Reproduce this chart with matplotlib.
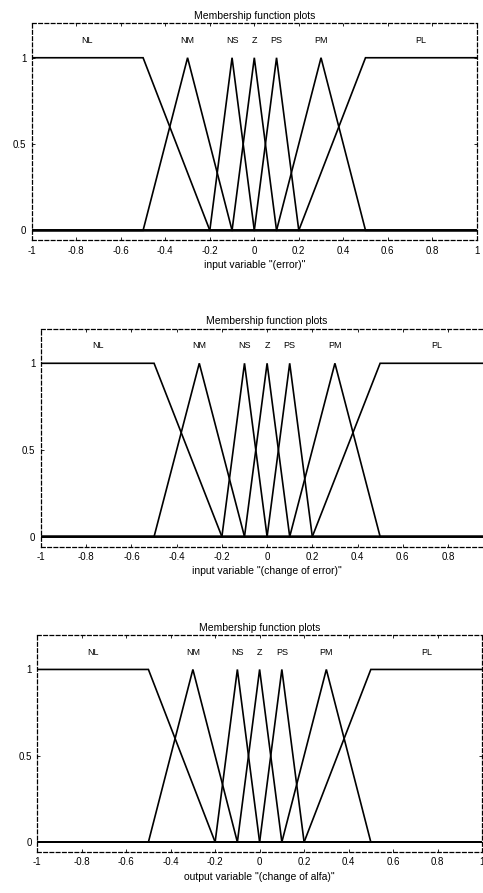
import matplotlib as mpl
mpl.use("Agg")
import matplotlib.pyplot as plt

mpl.rcParams.update({
    "font.family": "Liberation Sans",
    "font.size": 7,
    "xtick.labelsize": 7,
    "ytick.labelsize": 7,
})

# ── membership function data (same sets for the three variables) ──
MF_NAMES = ["NL", "NM", "NS", "Z", "PS", "PM", "PL"]
MF_PARAMS = [
    [-1.0, -1.0, -0.5, -0.2],   # trapezoid
    [-0.5, -0.3, -0.1],
    [-0.2, -0.1, 0.0],
    [-0.1, 0.0, 0.1],
    [0.0, 0.1, 0.2],
    [0.1, 0.3, 0.5],
    [0.2, 0.5, 1.0, 1.0],       # trapezoid
]
LABEL_X = [-0.75, -0.3, -0.1, 0.0, 0.1, 0.3, 0.75]
XTICKS = [-1, -0.8, -0.6, -0.4, -0.2, 0, 0.2, 0.4, 0.6, 0.8, 1]
XTICK_LABELS = ["-1", "-0.8", "-0.6", "-0.4", "-0.2", "0", "0.2", "0.4", "0.6", "0.8", "1"]
YTICKS = [0, 0.5, 1]
YTICK_LABELS = ["0", "0.5", "1"]
XLABELS = ['input variable "(error)"',
           'input variable "(change of error)"',
           'output variable "(change of alfa)"']

# axes rectangles in figure fractions (left, bottom, width, height)
RECTS = [
    (0.066, 0.731, 0.921, 0.243),
    (0.085, 0.388, 0.936, 0.244),
    (0.077, 0.046, 0.921, 0.243),
]


def mf_polyline(p):
    # vertices of a triangle / trapezoid on the universe [-1, 1]
    if len(p) == 3:
        a, b, c = p
        return [-1, a, b, c, 1], [0, 0, 1, 0, 0]
    a, b, c, d = p
    xs, ys = [b, c], [1, 1]
    if a < b:
        xs, ys = [-1, a] + xs, [0, 0] + ys
    if d > c:
        xs, ys = xs + [d, 1], ys + [0, 0]
    return xs, ys


fig = plt.figure(figsize=(4.83, 8.93), dpi=100)

for i, (rect, xlabel) in enumerate(zip(RECTS, XLABELS)):
    ax = fig.add_axes(rect)
    for name, p, lx in zip(MF_NAMES, MF_PARAMS, LABEL_X):
        xs, ys = mf_polyline(p)
        ax.plot(xs, ys, color="black", linewidth=1.2, solid_joinstyle="miter")
        ax.text(lx, 1.1, name, ha="center", va="center", fontsize=6.5)
    ax.set_xlim(-1, 1)
    ax.set_ylim(-0.057, 1.2)
    ax.set_xticks(XTICKS)
    labels = list(XTICK_LABELS)
    if i == 1:
        labels[-1] = ""   # right end is cut off in the middle panel
    ax.set_xticklabels(labels)
    ax.set_yticks(YTICKS)
    ax.set_yticklabels(YTICK_LABELS)
    ax.tick_params(direction="in", length=2.5, width=0.6, pad=4,
                   top=True, right=True)
    for sp in ax.spines.values():
        sp.set_linestyle((0, (3, 2)))
        sp.set_linewidth(0.9)
    ax.set_title("Membership function plots", fontsize=7.5, pad=3)
    ax.set_xlabel(xlabel, fontsize=7.5, labelpad=3)

fig.savefig("out.png", dpi=100)
